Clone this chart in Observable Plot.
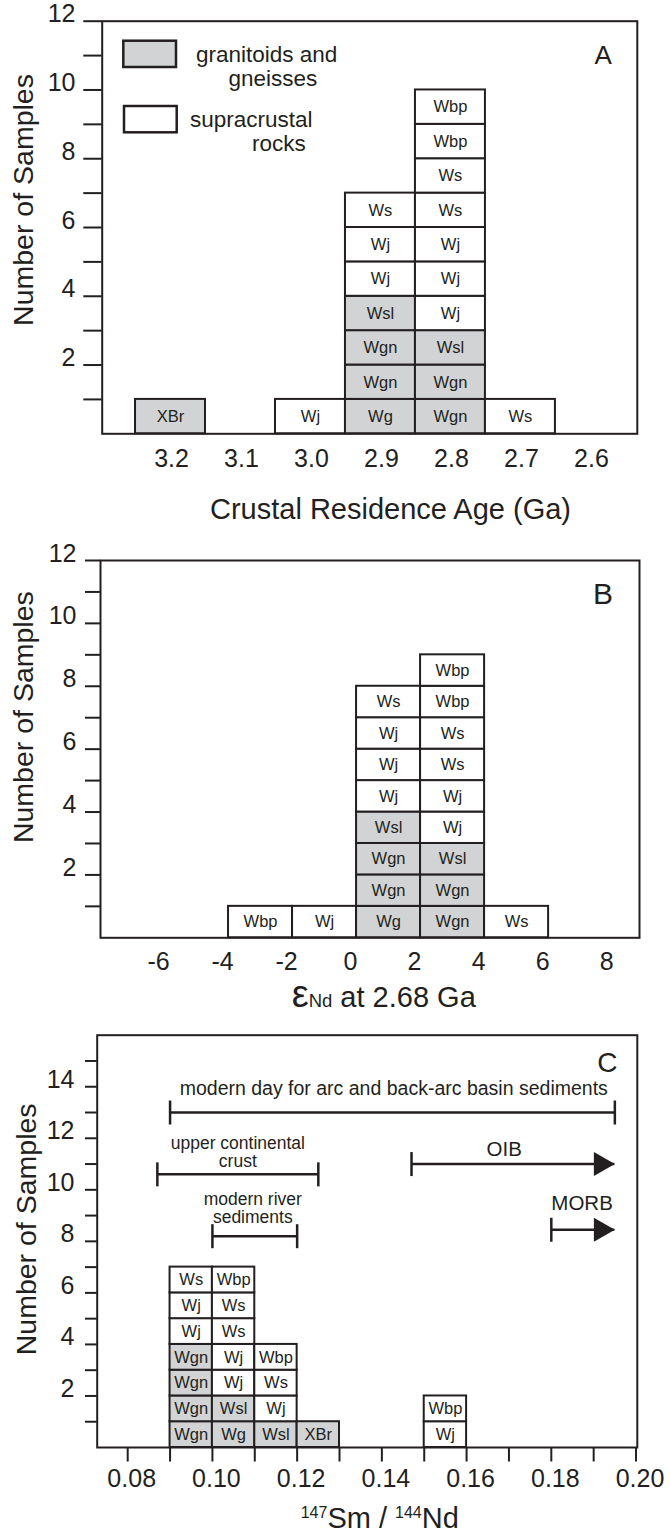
<!DOCTYPE html>
<html>
<head>
<meta charset="utf-8">
<script src="https://cdn.jsdelivr.net/npm/d3@7"></script>
<script src="https://cdn.jsdelivr.net/npm/@observablehq/plot@0.6"></script>
<style>
  html, body { margin: 0; padding: 0; background: #fff; }
  #chart { width: 670px; }
  #chart svg { display: block; }
</style>
</head>
<body>
<div id="chart"></div>
<script>
// ---------------- DATA ----------------
const granitoidCodes = ["XBr", "Wg", "Wgn", "Wsl"];           // shaded (granitoids and gneisses)
const legendLabels = ["granitoids and\ngneisses", "supracrustal\nrocks"];
const countLabel = "Number of Samples";

// Panel A: crustal residence age (Ga), bin centres, stacks from bottom
const ageBinCenters = [3.2, 3.0, 2.9, 2.8, 2.7];
const ageBinWidth = 0.1;
const ageSamples = [
  ["XBr"],
  ["Wj"],
  ["Wg", "Wgn", "Wgn", "Wsl", "Wj", "Wj", "Ws"],
  ["Wgn", "Wgn", "Wsl", "Wj", "Wj", "Wj", "Ws", "Ws", "Wbp", "Wbp"],
  ["Ws"]
];
const ageTicks = [3.2, 3.1, 3.0, 2.9, 2.8, 2.7, 2.6];
const ageTitle = "Crustal Residence Age (Ga)";

// Panel B: eNd at 2.68 Ga, bin starts (width 2)
const epsBinStarts = [-4, -2, 0, 2, 4];
const epsBinWidth = 2;
const epsSamples = [
  ["Wbp"],
  ["Wj"],
  ["Wg", "Wgn", "Wgn", "Wsl", "Wj", "Wj", "Wj", "Ws"],
  ["Wgn", "Wgn", "Wsl", "Wj", "Wj", "Ws", "Ws", "Wbp", "Wbp"],
  ["Ws"]
];
const epsTicks = [-6, -4, -2, 0, 2, 4, 6, 8];

// Panel C: 147Sm/144Nd, bin starts (width 0.01)
const smBinStarts = [0.09, 0.10, 0.11, 0.12, 0.15];
const smBinWidth = 0.01;
const smSamples = [
  ["Wgn", "Wgn", "Wgn", "Wgn", "Wj", "Wj", "Ws"],
  ["Wg", "Wsl", "Wj", "Wj", "Ws", "Ws", "Wbp"],
  ["Wsl", "Wj", "Ws", "Wbp"],
  ["XBr"],
  ["Wj", "Wbp"]
];
const smTicks = [0.08, 0.10, 0.12, 0.14, 0.16, 0.18, 0.20];
const smMinorTicks = [0.08, 0.09, 0.10, 0.11, 0.12, 0.13, 0.14, 0.15, 0.16, 0.17, 0.18, 0.19, 0.20];

// Reference ranges in panel C
const rangeLabels = ["modern day for arc and back-arc basin sediments", "upper continental\ncrust", "modern river\nsediments", "OIB", "MORB"];
const rangeFrom  = [0.09, 0.087, 0.10, 0.147, 0.18];
const rangeTo    = [0.195, 0.125, 0.12, 0.195, 0.195];
const rangeLevel = [13, 10.6, 8.2, 11, 8.45];
const rangeOpen  = [false, false, false, true, true];   // open-ended (arrow)

// Count ticks
const countTicksAB = [1, 2, 3, 4, 5, 6, 7, 8, 9, 10, 11, 12];
const countTicksC = [1, 2, 3, 4, 5, 6, 7, 8, 9, 10, 11, 12, 13, 14, 15];

// ---------------- STYLE ----------------
const INK = "#231f20";
const GRAY = "#d1d3d4";
const FONT = "'Liberation Sans', Arial, Helvetica, sans-serif";
const rangeTextStyle = [
  {dx: 1.3, dy: -23.7, fontSize: 19.5, lineHeight: 1},
  {dx: 0, dy: -22.5, fontSize: 17.5, lineHeight: 1.06},
  {dx: -2, dy: -27.7, fontSize: 17.5, lineHeight: 1.0},
  {dx: -9, dy: -15, fontSize: 20.5, lineHeight: 1},
  {dx: -1, dy: -26.5, fontSize: 20.5, lineHeight: 1}
];

// custom symbols
const capSymbol = {draw(ctx, size) { const h = Math.sqrt(size / Math.PI); ctx.moveTo(0, -h); ctx.lineTo(0, h); }};
const arrowSymbol = {draw(ctx, size) { const h = Math.sqrt(size / Math.PI); ctx.moveTo(0, 0); ctx.lineTo(-1.75 * h, -h); ctx.lineTo(-1.75 * h, h); ctx.closePath(); }};

function stackRows(starts, width, samples) {
  return starts.flatMap((s, k) => samples[k].map((code, i) => ({
    x1: s, x2: s + width, y1: i, y2: i + 1, code,
    fill: granitoidCodes.includes(code) ? GRAY : "white"
  })));
}

function barMarks(rows) {
  return [
    Plot.rect(rows, {x1: "x1", x2: "x2", y1: "y1", y2: "y2", fill: "fill", stroke: INK, strokeWidth: 2}),
    Plot.text(rows, {x: d => (d.x1 + d.x2) / 2, y: d => d.y1 + 0.5, text: "code", fontSize: 16.5, fill: INK})
  ];
}

function yAxisMarks(ticks, tickSize, tickPadding) {
  return [
    Plot.axisY({ticks, tickSize, fill: "none", stroke: INK, strokeWidth: 2, label: null}),
    Plot.axisY({ticks, tickSize, tickPadding, tickFormat: d => (d % 2 === 0 ? String(d) : ""), stroke: "none", fill: INK, fontSize: 25, dy: -7, label: null})
  ];
}

function yLabel(dx, dy) {
  return Plot.text([countLabel], {text: d => d, frameAnchor: "left", rotate: -90, textAnchor: "middle", lineAnchor: "middle", dx, dy, fontSize: 28.5, fill: INK});
}

function letter(t, dx, dy, size) {
  return Plot.text([t], {text: d => d, frameAnchor: "top-right", textAnchor: "middle", lineAnchor: "bottom", dx, dy, fontSize: size, fill: INK});
}

const baseStyle = {fontFamily: FONT, fontSize: "25px", color: INK, background: "white", overflow: "visible"};
const chart = document.getElementById("chart");

// ---------------- PANEL A ----------------
const ageRows = stackRows(ageBinCenters.map(c => c + ageBinWidth / 2), -ageBinWidth, ageSamples);
const svgA = Plot.plot({
  width: 670, height: 540,
  marginTop: 20.7, marginBottom: 106.7, marginLeft: 101.7, marginRight: 33.2,
  x: {domain: [3.2976, 2.533], axis: null},
  y: {domain: [0, 12], axis: null},
  color: {type: "identity"},
  style: baseStyle,
  marks: [
    ...barMarks(ageRows),
    Plot.frame({stroke: INK, strokeWidth: 2}),
    ...yAxisMarks(countTicksAB, 18.4, 8.3),
    Plot.axisX({ticks: ageTicks, tickFormat: d => d.toFixed(1), tickSize: 0, tickPadding: 15, dx: 1, fontSize: 25, fill: INK, label: null}),
    Plot.text([ageTitle], {text: d => d, frameAnchor: "bottom", textAnchor: "middle", lineAnchor: "bottom", dx: 20.75, dy: 85, fontSize: 29, fill: INK}),
    yLabel(23.5 - 101.7, -27.5),
    letter("A", -34.2, 42.6, 26)
  ]
});
chart.appendChild(svgA);

// legend (panel A)
{
  const g = d3.select(svgA).append("g").attr("font-family", FONT).attr("fill", INK).attr("text-anchor", "start");
  const boxes = [{x: 123.3, y: 40.7, fill: GRAY}, {x: 124, y: 106, fill: "white"}];
  const linePos = [[{x: 196, y: 61.5}, {x: 228.5, y: 86}], [{x: 190, y: 126.5}, {x: 252, y: 151}]];
  legendLabels.forEach((lab, i) => {
    g.append("rect").attr("x", boxes[i].x).attr("y", boxes[i].y).attr("width", 52.7).attr("height", 26.3)
      .attr("fill", boxes[i].fill).attr("stroke", INK).attr("stroke-width", 2.5);
    lab.split("\n").forEach((line, j) => {
      g.append("text").attr("x", linePos[i][j].x).attr("y", linePos[i][j].y).attr("font-size", 22.5).text(line);
    });
  });
}

// ---------------- PANEL B ----------------
const epsRows = stackRows(epsBinStarts, epsBinWidth, epsSamples);
const svgB = Plot.plot({
  width: 670, height: 480,
  marginTop: 20, marginBottom: 82.7, marginLeft: 100, marginRight: 31,
  x: {domain: [-8, 8.84], axis: null},
  y: {domain: [0, 12], axis: null},
  color: {type: "identity"},
  style: baseStyle,
  marks: [
    ...barMarks(epsRows),
    Plot.frame({stroke: INK, strokeWidth: 2}),
    ...yAxisMarks(countTicksAB, 15, 9),
    Plot.axisX({ticks: epsTicks, tickFormat: d => String(d), tickSize: 0, tickPadding: 14.8, dx: -6, fontSize: 25, fill: INK, label: null}),
    yLabel(23.5 - 100, -32),
    letter("B", -36.5, 43.3, 30)
  ]
});
chart.appendChild(svgB);
{
  const t = d3.select(svgB).append("text").attr("x", 291.7).attr("y", 466.7)
    .attr("text-anchor", "start").attr("fill", INK).attr("font-family", FONT);
  t.append("tspan").attr("font-size", 38).text("ε");
  t.append("tspan").attr("font-size", 18.5).text("Nd");
  t.append("tspan").attr("font-size", 29).text(" at 2.68 Ga");
}

// ---------------- PANEL C ----------------
const smRows = stackRows(smBinStarts, smBinWidth, smSamples);
const rangeRows = rangeLabels.map((label, i) => ({label, from: rangeFrom[i], to: rangeTo[i], level: rangeLevel[i], open: rangeOpen[i]}));
const svgC = Plot.plot({
  width: 670, height: 512,
  marginTop: 14.7, marginBottom: 85, marginLeft: 96.7, marginRight: 33.2,
  x: {domain: [0.0728, 0.2003], axis: null},
  y: {domain: [0, 16], axis: null},
  color: {type: "identity"},
  style: baseStyle,
  marks: [
    ...barMarks(smRows),
    Plot.ruleY(rangeRows, {y: "level", x1: "from", x2: "to", stroke: INK, strokeWidth: 2.5}),
    Plot.dot(rangeRows, {x: "from", y: "level", symbol: capSymbol, r: 12, fill: "none", stroke: INK, strokeWidth: 2.5}),
    Plot.dot(rangeRows.filter(d => !d.open), {x: "to", y: "level", symbol: capSymbol, r: 12, fill: "none", stroke: INK, strokeWidth: 2.5}),
    Plot.dot(rangeRows.filter(d => d.open), {x: "to", y: "level", symbol: arrowSymbol, r: 12, fill: INK, stroke: "none"}),
    ...rangeRows.map((row, i) => Plot.text([row], {
      x: d => (d.from + d.to) / 2, y: "level", text: "label",
      textAnchor: "middle", lineAnchor: "middle",
      dx: rangeTextStyle[i].dx, dy: rangeTextStyle[i].dy,
      fontSize: rangeTextStyle[i].fontSize, lineHeight: rangeTextStyle[i].lineHeight, fill: INK
    })),
    Plot.frame({stroke: INK, strokeWidth: 2}),
    ...yAxisMarks(countTicksC, 11.7, 11),
    Plot.axisX({ticks: smMinorTicks, tickSize: 14.5, fill: "none", stroke: INK, strokeWidth: 2, label: null}),
    Plot.axisX({ticks: smTicks, tickFormat: d => d.toFixed(2), tickSize: 14.5, tickPadding: 7, dx: 4, stroke: "none", fill: INK, fontSize: 25, label: null}),
    yLabel(26 - 96.7, -12),
    letter("C", -30, 37, 28)
  ]
});
chart.appendChild(svgC);
{
  const t = d3.select(svgC).append("text").attr("x", 300.7).attr("y", 508.3)
    .attr("text-anchor", "start").attr("fill", INK).attr("font-family", FONT);
  t.append("tspan").attr("font-size", 16).attr("dy", -10.5).text("147");
  t.append("tspan").attr("font-size", 29).attr("dy", 10.5).text("Sm / ");
  t.append("tspan").attr("font-size", 16).attr("dy", -10.5).text("144");
  t.append("tspan").attr("font-size", 29).attr("dy", 10.5).text("Nd");
}
</script>
</body>
</html>
